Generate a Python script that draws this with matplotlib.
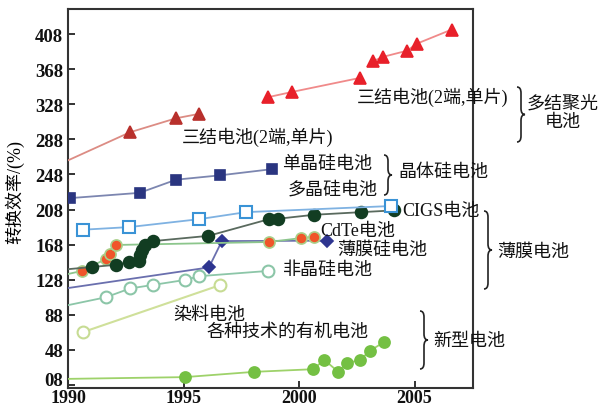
import matplotlib
matplotlib.use("Agg")
import matplotlib.pyplot as plt
from matplotlib.path import Path
from matplotlib.patches import PathPatch
from matplotlib.transforms import ScaledTranslation

FAM = ['Liberation Serif', 'Noto Sans CJK SC']
plt.rcParams['font.family'] = FAM

# ---------------- data ----------------
tj_old_years = [1990.0, 1992.68, 1994.68, 1995.67]
tj_old_vals = [264, 296, 312, 317]
tj_new1_years = [1998.66, 1999.7, 2002.64]
tj_new1_vals = [336, 342, 358]
tj_new2_years = [2003.2, 2003.64, 2004.68, 2005.1, 2006.6]
tj_new2_vals = [377, 382, 389, 397, 413]

sc_years = [1990.1, 1993.1, 1994.68, 1996.6, 1998.83]
sc_vals = [221, 227, 242, 247, 254]

mc_years = [1990.66, 1992.66, 1995.68, 1997.7, 2004.0]
mc_vals = [185, 188, 197, 205, 212]

cigs_years = [1990.0, 1991.05, 1992.08, 1992.65, 1993.07, 1993.12, 1993.2,
              1993.33, 1993.68, 1996.08, 1998.7, 1999.1, 2000.65, 2002.7, 2004.1]
cigs_vals = [140, 142.5, 145, 148.5, 149.5, 156, 162, 167.5, 172, 178,
             197, 197.5, 202, 205, 207]

cdte_years = [1990.0, 1990.6, 1991.64, 1991.82, 1992.08, 1998.7, 2000.1, 2000.65]
cdte_vals = [134.5, 138, 151.6, 157, 167.6, 171, 175.5, 177]

tfsi_years = [1990.0, 1996.1, 1996.66, 2001.2]
tfsi_vals = [118.5, 142, 172, 172.5]

asi_years = [1990.0, 1991.64, 1992.68, 1993.66, 1995.06, 1995.67, 1998.66]
asi_vals = [99, 108, 118, 122, 127.7, 132, 138]

dye_years = [1990.66, 1996.6]
dye_vals = [68.4, 122]

org_years = [1990.0, 1995.06, 1998.05, 2000.6, 2001.1, 2001.7, 2002.08,
             2002.64, 2003.07, 2003.68]
org_vals = [15, 17, 23, 26, 36.5, 23, 33, 36.5, 47, 57]

yticks = [8, 48, 88, 128, 168, 208, 248, 288, 328, 368, 408]
ytick_labels = ['08', '48', '88', '128', '168', '208', '248', '288', '328', '368', '408']
xticks = [1990, 1995, 2000, 2005]
xtick_labels = ['1990', '1995', '2000', '2005']

W, H = 604, 410
fig = plt.figure(figsize=(W / 100, H / 100), dpi=100)
ax = fig.add_axes([68 / W, 1 - 389 / H, (473 - 68) / W, (389 - 10) / H])
ax.set_xlim(1990, 2007.53)
ax.set_ylim(4.6, 436.5)


def series(x, y, lc, mk, mfc, mec, ms, skip_first=False, lw=1.3, mew=1.2):
    n = len(x)
    me = list(range(1 if skip_first else 0, n))
    ax.plot(x, y, color=lc, lw=lw, marker=mk, markerfacecolor=mfc,
            markeredgecolor=mec, markersize=ms, markeredgewidth=mew,
            markevery=me, zorder=3)


series(org_years, org_vals, '#9ed26a', 'o', '#74c043', '#74c043', 8, skip_first=True)
series(dye_years, dye_vals, '#cfe09a', 'o', 'white', '#c7dc94', 8.5, lw=1.5, mew=1.5)
series(asi_years, asi_vals, '#8cc6a8', 'o', 'white', '#8cc6a8', 8.5, skip_first=True, mew=1.5)
series(tfsi_years, tfsi_vals, '#6a6fae', 'D', '#2e3590', '#2e3590', 6.5, skip_first=True)
series(cdte_years, cdte_vals, '#8cc68c', 'o', '#f0552a', '#a9d08a', 8, skip_first=True)
series(cigs_years, cigs_vals, '#5a6a5e', 'o', '#123d22', '#123d22', 8.5, skip_first=True)
series(mc_years, mc_vals, '#7fb2e2', 's', 'white', '#3a93d6', 8, mew=1.5)
series(sc_years, sc_vals, '#7c86b0', 's', '#2a3580', '#2a3580', 7.5)
series(tj_old_years, tj_old_vals, '#dc8c84', '^', '#b8302c', '#b8302c', 9, skip_first=True)
series(tj_new1_years, tj_new1_vals, '#f08a8a', '^', '#e8202a', '#e8202a', 9)
series(tj_new2_years, tj_new2_vals, '#f08a8a', '^', '#e8202a', '#e8202a', 9)

ax.set_yticks(yticks)
ax.set_yticklabels(ytick_labels)
ax.set_xticks(xticks)
ax.set_xticklabels(xtick_labels)
ax.tick_params(direction='in', length=5, width=1.2, labelsize=13.5, colors='#111111')
ax.tick_params(axis='x', pad=1, labelsize=13)
for lab in ax.get_xticklabels() + ax.get_yticklabels():
    lab.set_fontweight('bold')
    lab.set_family(FAM)
# nudge the lowest y label up slightly so it clears the x labels
ylabs = ax.get_yticklabels()
ylabs[0].set_transform(ylabs[0].get_transform() + ScaledTranslation(0, 4.5 / 72, fig.dpi_scale_trans))
for sp in ax.spines.values():
    sp.set_linewidth(1.5)
    sp.set_color('#333333')

fig.text(15 / W, 1 - 192 / H, '转换效率/(%)', rotation=90, ha='center', va='center',
         fontsize=13, family=FAM)


def ptext(x, y, s, ha='left', fs=13):
    fig.text(x / W, 1 - y / H, s, ha=ha, va='center', fontsize=fs, family=FAM,
             color='#111111', linespacing=1.1)


ptext(357, 97, '三结电池(2端,单片)')
ptext(563, 113, '多结聚光\n电池', ha='center')
ptext(182, 137, '三结电池(2端,单片)')
ptext(282, 164, '单晶硅电池')
ptext(288, 190, '多晶硅电池')
ptext(398, 173, '晶体硅电池')
ptext(402, 212, 'CIGS电池')
ptext(320, 232, 'CdTe电池')
ptext(337, 250, '薄膜硅电池')
ptext(283, 270, '非晶硅电池')
ptext(497, 252, '薄膜电池')
ptext(173, 316, '染料电池')
ptext(207, 332, '各种技术的有机电池')
ptext(433, 342, '新型电池')


def brace(x0, yt, yb, w=8, r=6):
    ym = (yt + yb) / 2
    xm = x0 + w / 2
    pts = [(x0, yt), (xm, yt), (xm, yt + r), (xm, ym - r), (xm, ym), (x0 + w, ym),
           (xm, ym), (xm, ym + r), (xm, yb - r), (xm, yb), (x0, yb)]
    codes = [Path.MOVETO, Path.CURVE3, Path.CURVE3, Path.LINETO, Path.CURVE3, Path.CURVE3,
             Path.CURVE3, Path.CURVE3, Path.LINETO, Path.CURVE3, Path.CURVE3]
    verts = [(px / W, 1 - py / H) for px, py in pts]
    fig.add_artist(PathPatch(Path(verts, codes), transform=fig.transFigure,
                             fill=False, lw=1.2, color='#222222'))


brace(517, 88, 143)
brace(384, 156, 196)
brace(484, 212, 290)
brace(420, 312, 370)

fig.savefig('out.png', dpi=100)
